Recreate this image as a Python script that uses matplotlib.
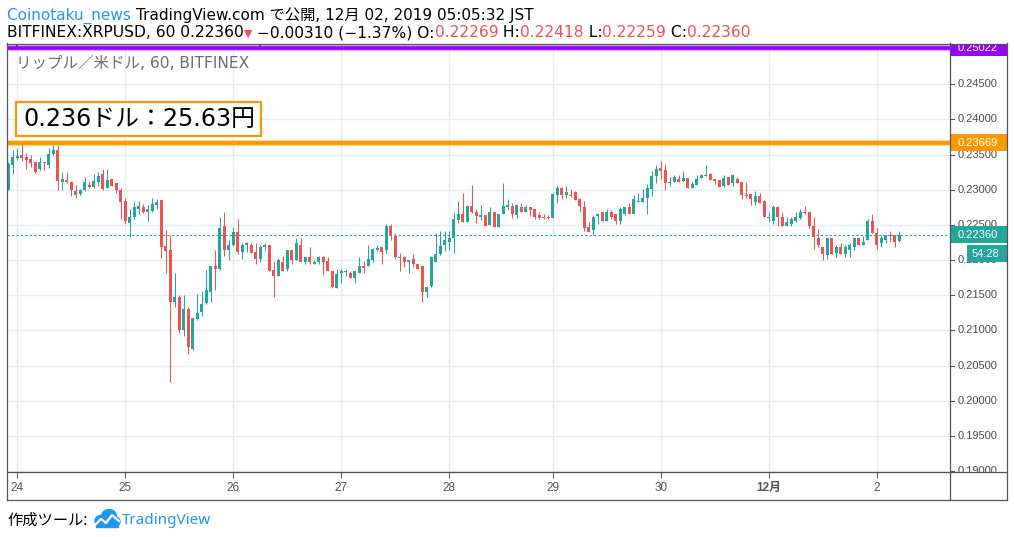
import numpy as np
import matplotlib.pyplot as plt
from matplotlib.patches import Rectangle, Ellipse
from matplotlib.lines import Line2D

plt.rcParams['font.family'] = ['Liberation Sans', 'Noto Sans CJK JP', 'DejaVu Sans']

W, H = 1014, 537

# hourly XRP/USD candles, Nov 23 22:00 .. Dec 2 05:00 (JST)
opens = [0.2299, 0.2335, 0.2345, 0.2349, 0.2346, 0.2344, 0.2339, 0.2329, 0.2340, 0.2335,
         0.2351, 0.2356, 0.2311, 0.2314, 0.2311, 0.2298, 0.2294, 0.2299, 0.2307, 0.2304,
         0.2311, 0.2322, 0.2302, 0.2316, 0.2309, 0.2299, 0.2284, 0.2253, 0.2261, 0.2273,
         0.2276, 0.2268, 0.2270, 0.2279, 0.2285, 0.2220, 0.2214, 0.2140, 0.2148, 0.2100,
         0.2131, 0.2073, 0.2116, 0.2126, 0.2139, 0.2155, 0.2191, 0.2187, 0.2249, 0.2215,
         0.2221, 0.2240, 0.2212, 0.2221, 0.2222, 0.2211, 0.2201, 0.2218, 0.2221, 0.2186,
         0.2177, 0.2198, 0.2188, 0.2215, 0.2200, 0.2221, 0.2197, 0.2205, 0.2195, 0.2197,
         0.2205, 0.2199, 0.2184, 0.2161, 0.2181, 0.2183, 0.2182, 0.2175, 0.2181, 0.2192,
         0.2191, 0.2200, 0.2214, 0.2218, 0.2214, 0.2249, 0.2234, 0.2204, 0.2205, 0.2197,
         0.2201, 0.2194, 0.2191, 0.2155, 0.2163, 0.2198, 0.2208, 0.2221, 0.2226, 0.2231,
         0.2257, 0.2266, 0.2254, 0.2277, 0.2269, 0.2261, 0.2264, 0.2250, 0.2268, 0.2247,
         0.2266, 0.2275, 0.2277, 0.2264, 0.2275, 0.2268, 0.2275, 0.2272, 0.2264, 0.2262,
         0.2262, 0.2260, 0.2293, 0.2302, 0.2293, 0.2292, 0.2297, 0.2287, 0.2275, 0.2247,
         0.2243, 0.2263, 0.2268, 0.2256, 0.2268, 0.2265, 0.2255, 0.2265, 0.2275, 0.2266,
         0.2283, 0.2282, 0.2288, 0.2301, 0.2320, 0.2331, 0.2328, 0.2310, 0.2311, 0.2315,
         0.2312, 0.2317, 0.2303, 0.2307, 0.2317, 0.2320, 0.2323, 0.2315, 0.2314, 0.2305,
         0.2318, 0.2310, 0.2315, 0.2311, 0.2292, 0.2294, 0.2282, 0.2291, 0.2284, 0.2260,
         0.2256, 0.2275, 0.2262, 0.2249, 0.2251, 0.2255, 0.2260, 0.2268, 0.2268, 0.2249,
         0.2231, 0.2219, 0.2207, 0.2232, 0.2210, 0.2218, 0.2208, 0.2215, 0.2218, 0.2231,
         0.2221, 0.2228, 0.2255, 0.2239, 0.2224, 0.2229, 0.2235, 0.2235, 0.22269]
highs = [0.2339, 0.2357, 0.2359, 0.2369, 0.2353, 0.2349, 0.2340, 0.2346, 0.2340, 0.2359,
         0.2363, 0.2364, 0.2326, 0.2326, 0.2312, 0.2307, 0.2301, 0.2318, 0.2313, 0.2322,
         0.2325, 0.2329, 0.2330, 0.2316, 0.2310, 0.2303, 0.2288, 0.2273, 0.2283, 0.2284,
         0.2280, 0.2278, 0.2288, 0.2287, 0.2286, 0.2243, 0.2236, 0.2182, 0.2151, 0.2151,
         0.2133, 0.2118, 0.2152, 0.2156, 0.2186, 0.2191, 0.2215, 0.2262, 0.2269, 0.2229,
         0.2247, 0.2259, 0.2224, 0.2226, 0.2225, 0.2225, 0.2221, 0.2224, 0.2221, 0.2199,
         0.2203, 0.2206, 0.2215, 0.2215, 0.2231, 0.2231, 0.2205, 0.2218, 0.2200, 0.2206,
         0.2206, 0.2204, 0.2185, 0.2188, 0.2188, 0.2188, 0.2184, 0.2186, 0.2204, 0.2199,
         0.2222, 0.2217, 0.2222, 0.2218, 0.2251, 0.2251, 0.2238, 0.2210, 0.2206, 0.2200,
         0.2208, 0.2195, 0.2192, 0.2163, 0.2206, 0.2238, 0.2241, 0.2241, 0.2241, 0.2268,
         0.2284, 0.2295, 0.2278, 0.2307, 0.2272, 0.2279, 0.2264, 0.2275, 0.2269, 0.2266,
         0.2309, 0.2287, 0.2281, 0.2279, 0.2281, 0.2279, 0.2275, 0.2272, 0.2268, 0.2266,
         0.2264, 0.2295, 0.2305, 0.2304, 0.2305, 0.2301, 0.2298, 0.2288, 0.2284, 0.2254,
         0.2264, 0.2266, 0.2268, 0.2272, 0.2271, 0.2265, 0.2275, 0.2275, 0.2281, 0.2292,
         0.2295, 0.2301, 0.2308, 0.2327, 0.2335, 0.2341, 0.2337, 0.2318, 0.2321, 0.2321,
         0.2327, 0.2317, 0.2311, 0.2321, 0.2323, 0.2335, 0.2324, 0.2315, 0.2314, 0.2321,
         0.2318, 0.2322, 0.2318, 0.2311, 0.2311, 0.2294, 0.2298, 0.2295, 0.2285, 0.2268,
         0.2278, 0.2277, 0.2269, 0.2262, 0.2261, 0.2268, 0.2272, 0.2277, 0.2268, 0.2261,
         0.2244, 0.2219, 0.2232, 0.2232, 0.2222, 0.2225, 0.2222, 0.2224, 0.2232, 0.2231,
         0.2234, 0.2259, 0.2266, 0.2245, 0.2236, 0.2236, 0.2242, 0.2235, 0.22418]
lows = [0.2299, 0.2323, 0.2343, 0.2341, 0.2329, 0.2333, 0.2324, 0.2328, 0.2328, 0.2331,
        0.2350, 0.2299, 0.2299, 0.2310, 0.2291, 0.2288, 0.2293, 0.2298, 0.2303, 0.2302,
        0.2305, 0.2300, 0.2302, 0.2306, 0.2295, 0.2258, 0.2252, 0.2233, 0.2259, 0.2266,
        0.2267, 0.2255, 0.2268, 0.2272, 0.2203, 0.2181, 0.2027, 0.2133, 0.2097, 0.2092,
        0.2066, 0.2072, 0.2115, 0.2120, 0.2138, 0.2141, 0.2158, 0.2186, 0.2206, 0.2200,
        0.2220, 0.2208, 0.2201, 0.2211, 0.2210, 0.2194, 0.2198, 0.2213, 0.2185, 0.2148,
        0.2177, 0.2184, 0.2184, 0.2195, 0.2200, 0.2197, 0.2195, 0.2195, 0.2194, 0.2195,
        0.2179, 0.2184, 0.2161, 0.2161, 0.2168, 0.2178, 0.2174, 0.2168, 0.2181, 0.2182,
        0.2191, 0.2197, 0.2213, 0.2195, 0.2210, 0.2229, 0.2201, 0.2185, 0.2190, 0.2181,
        0.2190, 0.2188, 0.2141, 0.2147, 0.2162, 0.2198, 0.2207, 0.2213, 0.2214, 0.2210,
        0.2253, 0.2254, 0.2254, 0.2267, 0.2253, 0.2257, 0.2248, 0.2250, 0.2247, 0.2247,
        0.2266, 0.2272, 0.2260, 0.2260, 0.2268, 0.2268, 0.2263, 0.2258, 0.2258, 0.2259,
        0.2259, 0.2260, 0.2281, 0.2287, 0.2289, 0.2290, 0.2285, 0.2268, 0.2241, 0.2240,
        0.2235, 0.2251, 0.2256, 0.2256, 0.2258, 0.2251, 0.2251, 0.2264, 0.2266, 0.2266,
        0.2283, 0.2282, 0.2266, 0.2291, 0.2310, 0.2316, 0.2299, 0.2306, 0.2311, 0.2311,
        0.2311, 0.2302, 0.2303, 0.2307, 0.2317, 0.2320, 0.2314, 0.2308, 0.2304, 0.2304,
        0.2307, 0.2306, 0.2310, 0.2287, 0.2288, 0.2279, 0.2279, 0.2281, 0.2261, 0.2254,
        0.2252, 0.2249, 0.2249, 0.2249, 0.2249, 0.2254, 0.2259, 0.2266, 0.2246, 0.2216,
        0.2218, 0.2200, 0.2202, 0.2208, 0.2205, 0.2208, 0.2205, 0.2205, 0.2215, 0.2221,
        0.2221, 0.2228, 0.2239, 0.2216, 0.2218, 0.2225, 0.2226, 0.2218, 0.22259]
closes = [0.2337, 0.2346, 0.2348, 0.2345, 0.2342, 0.2338, 0.2325, 0.2340, 0.2338, 0.2351,
          0.2356, 0.2312, 0.2316, 0.2311, 0.2299, 0.2292, 0.2300, 0.2311, 0.2304, 0.2313,
          0.2319, 0.2301, 0.2314, 0.2306, 0.2299, 0.2282, 0.2255, 0.2262, 0.2275, 0.2277,
          0.2268, 0.2272, 0.2280, 0.2283, 0.2218, 0.2213, 0.2140, 0.2148, 0.2101, 0.2131,
          0.2076, 0.2117, 0.2125, 0.2138, 0.2158, 0.2191, 0.2188, 0.2245, 0.2214, 0.2221,
          0.2240, 0.2212, 0.2222, 0.2224, 0.2210, 0.2201, 0.2219, 0.2221, 0.2185, 0.2177,
          0.2200, 0.2184, 0.2215, 0.2200, 0.2224, 0.2197, 0.2204, 0.2197, 0.2198, 0.2205,
          0.2198, 0.2184, 0.2162, 0.2180, 0.2185, 0.2184, 0.2175, 0.2185, 0.2191, 0.2189,
          0.2201, 0.2216, 0.2217, 0.2211, 0.2249, 0.2234, 0.2204, 0.2203, 0.2197, 0.2200,
          0.2195, 0.2188, 0.2155, 0.2162, 0.2204, 0.2209, 0.2220, 0.2228, 0.2231, 0.2258,
          0.2266, 0.2254, 0.2277, 0.2268, 0.2263, 0.2264, 0.2249, 0.2268, 0.2247, 0.2266,
          0.2277, 0.2278, 0.2265, 0.2278, 0.2268, 0.2275, 0.2271, 0.2261, 0.2260, 0.2260,
          0.2260, 0.2294, 0.2302, 0.2293, 0.2297, 0.2291, 0.2286, 0.2277, 0.2245, 0.2240,
          0.2262, 0.2265, 0.2256, 0.2268, 0.2261, 0.2255, 0.2272, 0.2275, 0.2266, 0.2287,
          0.2284, 0.2288, 0.2302, 0.2320, 0.2329, 0.2327, 0.2309, 0.2311, 0.2318, 0.2311,
          0.2317, 0.2302, 0.2308, 0.2315, 0.2321, 0.2321, 0.2314, 0.2312, 0.2304, 0.2317,
          0.2307, 0.2321, 0.2310, 0.2293, 0.2291, 0.2287, 0.2291, 0.2281, 0.2261, 0.2262,
          0.2275, 0.2261, 0.2249, 0.2254, 0.2258, 0.2261, 0.2268, 0.2267, 0.2248, 0.2233,
          0.2221, 0.2209, 0.2231, 0.2209, 0.2219, 0.2208, 0.2218, 0.2221, 0.2231, 0.2221,
          0.2226, 0.2255, 0.2239, 0.2222, 0.2231, 0.2236, 0.2234, 0.2226, 0.22360]

day_idx = [2, 26, 50, 74, 98, 121, 145, 169, 193]
day_labels = ['24', '25', '26', '27', '28', '29', '30', '12月', '2']
price_ticks = [0.190, 0.195, 0.200, 0.205, 0.210, 0.215, 0.220, 0.225, 0.230, 0.235, 0.240, 0.245]

purple_level = 0.25022
orange_level = 0.23669
last_price = 0.22360
countdown = '54:28'
note_text = '0.236ドル：25.63円'
title_text = 'リップル／米ドル, 60, BITFINEX'

UP = '#26a69a'
DOWN = '#ef5350'
GRID = '#e4edf3'
AXC = '#50535e'
PURPLE = '#9900ff'
ORANGE = '#ff9800'
BLUE = '#2196f3'


def fx(x):
    return x / W


def fy(y):
    return 1 - y / H


fig = plt.figure(figsize=(W / 100, H / 100), dpi=100)
fig.patch.set_facecolor('white')

# price scale: 0.245 sits at y=84.3 px, 0.0001422 per px
ppx = 0.0001422
ylo = 0.245 - (472 - 84.3) * ppx
yhi = 0.245 + (84.3 - 44) * ppx

ax = fig.add_axes([fx(7), fy(472), (950 - 7) / W, (472 - 44) / H])
ax.set_xlim(-0.29, 209.27)
ax.set_ylim(ylo, yhi)
for s in ax.spines.values():
    s.set_visible(False)
ax.set_yticks([])
ax.set_xticks(day_idx, day_labels)
ax.tick_params(axis='x', length=4, width=0.75, color=AXC, labelsize=8.5,
               labelcolor=AXC, pad=3.5)
ax.get_xticklabels()[7].set_fontweight('bold')

for p in price_ticks:
    ax.axhline(p, color=GRID, lw=1, zorder=0)
for d in day_idx:
    ax.axvline(d, color=GRID, lw=1, zorder=0)

# candles
x = np.arange(len(opens))
o = np.array(opens)
c = np.array(closes)
cols = [UP if cc >= oo else DOWN for oo, cc in zip(o, c)]
ax.vlines(x, lows, highs, colors=cols, lw=0.75, zorder=3)
body = np.maximum(np.abs(c - o), 0.00012)
ax.bar(x, body, bottom=np.minimum(o, c), width=0.66, color=cols, lw=0, zorder=4)

# drawn levels
ax.axhline(purple_level, color=PURPLE, lw=4.2, alpha=0.35, zorder=5)
ax.axhline(purple_level, color=PURPLE, lw=2.6, zorder=5)
ax.vlines([2, 56], purple_level, yhi, colors=PURPLE, lw=1.2, zorder=5)
ax.axhline(orange_level, color=ORANGE, lw=4.4, alpha=0.4, zorder=5)
ax.axhline(orange_level, color=ORANGE, lw=2.8, zorder=5)
ax.axhline(last_price, color=UP, lw=0.8, ls=(0, (2, 2)), zorder=5)

# price axis panel
axp = fig.add_axes([fx(950), fy(472), 57 / W, (472 - 44) / H])
axp.set_xlim(0, 57)
axp.set_ylim(ylo, yhi)
axp.axis('off')
for p in price_ticks:
    axp.plot([0, 4], [p, p], color=AXC, lw=0.75)
    axp.text(8, p, f'{p:.5f}', va='center', ha='left', fontsize=8, color='#4a4a52',
             clip_on=True)

bh = 17 * ppx


def price_box(level, text, color, x0=0, yoff=0.0, tx=8):
    yc = level + yoff
    axp.add_patch(Rectangle((x0, yc - bh / 2), 57 - x0, bh, facecolor=color,
                            edgecolor='none', zorder=5))
    axp.text(tx, yc, text, va='center', ha='left', fontsize=8, color='white',
             zorder=6, clip_on=True)


price_box(purple_level, f'{purple_level:.5f}', PURPLE)
price_box(orange_level, f'{orange_level:.5f}', ORANGE)
price_box(last_price, f'{last_price:.5f}', UP)
price_box(last_price, countdown, UP, x0=17, yoff=-19 * ppx, tx=21.5)

# pane frame
for (x0, y0, x1, y1) in [(7, 43.5, 1007, 43.5), (6.5, 43, 6.5, 500), (1007, 43, 1007, 500),
                         (7, 500, 1007, 500), (7, 472, 1007, 472), (950, 43, 950, 500)]:
    fig.add_artist(Line2D([fx(x0), fx(x1)], [fy(y0), fy(y1)], color=AXC, lw=0.9))

LFAM = ['DejaVu Sans', 'Noto Sans CJK JP']

# pane title and note
fig.text(fx(16), fy(63), title_text, fontsize=11.2, color='#6a6d78', va='center',
         ha='left', family=LFAM)
fig.add_artist(Rectangle((fx(16), fy(136)), fx(245), 34 / H, facecolor='white',
                         edgecolor=ORANGE, lw=1.6, transform=fig.transFigure))
fig.text(fx(23), fy(119.5), note_text, fontsize=17.2, color='black', va='center',
         ha='left', family=LFAM)

# header lines
renderer = fig.canvas.get_renderer()


def text_w(s, **kw):
    t = fig.text(0, 0, '|' + s + '|', **kw)
    w1 = t.get_window_extent(renderer).width
    t.remove()
    t = fig.text(0, 0, '||', **kw)
    w2 = t.get_window_extent(renderer).width
    t.remove()
    return w1 - w2


def runs(x0, ybase, parts, size):
    xx = x0
    for s, col in parts:
        kw = dict(fontsize=size, family=LFAM)
        if s == '▼':
            kw = dict(fontsize=size * 0.7, family=['DejaVu Sans'])
        fig.text(fx(xx), fy(ybase), s, color=col, va='baseline', ha='left', **kw)
        xx += text_w(s, **kw)


runs(7, 20, [('Coinotaku_news ', BLUE),
             ('TradingView.com で公開, 12月 02, 2019 05:05:32 JST', 'black')], 11)
runs(7, 37, [('BITFINEX:XRPUSD, 60 0.22360', 'black'), ('▼', DOWN),
             (' −0.00310 (−1.37%) O:', 'black'), (f'{opens[-1]:.5f}', DOWN),
             (' H:', 'black'), (f'{highs[-1]:.5f}', DOWN),
             (' L:', 'black'), (f'{lows[-1]:.5f}', DOWN),
             (' C:', 'black'), (f'{closes[-1]:.5f}', DOWN)], 11.15)

# footer with logo
fig.text(fx(7), fy(520), '作成ツール:', fontsize=11, color='black', va='center', ha='left',
         family=['Noto Sans CJK JP'])
for (cx, cy, w, h) in [(101, 521, 12, 11), (109, 516.5, 15, 14), (115.5, 521.5, 9, 9)]:
    fig.add_artist(Ellipse((fx(cx), fy(cy)), w / W, h / H, color=BLUE,
                           transform=fig.transFigure))
fig.add_artist(Rectangle((fx(96), fy(527)), 22 / W, 6 / H, color=BLUE,
                         transform=fig.transFigure))
fig.add_artist(Line2D([fx(95), fx(101), fx(106), fx(112), fx(119)],
                      [fy(525), fy(519), fy(523), fy(515), fy(521)],
                      color='white', lw=1.6))
fig.text(fx(122), fy(520), 'TradingView', fontsize=11, color=BLUE, va='center',
         ha='left', family=['Noto Sans'])

fig.savefig('out.png', dpi=100, facecolor='white')
